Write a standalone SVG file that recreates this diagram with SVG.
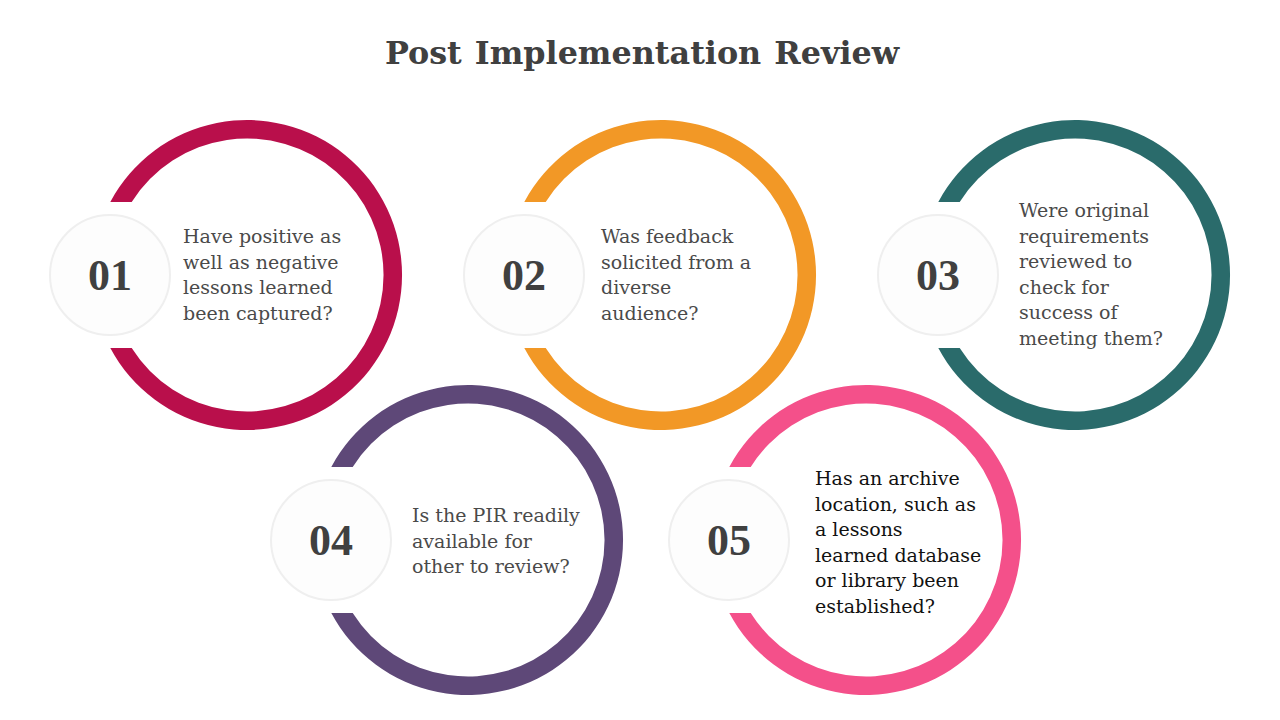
<svg xmlns="http://www.w3.org/2000/svg" width="1280" height="720" viewBox="0 0 1280 720">
<style>
.title{font-family:"DejaVu Serif","Liberation Serif",serif;font-weight:bold;font-size:31.8px;fill:#404040;word-spacing:2px}
.num{font-family:"Liberation Serif","DejaVu Serif",serif;font-weight:bold;font-size:44px;fill:#404040;text-anchor:middle}
.body{font-family:"DejaVu Serif","Liberation Serif",serif;font-size:19px;fill:#4a4a4a}
.dark{fill:#111111}
.badge{fill:#fdfdfd;stroke:#efefef;stroke-width:2}
</style>
<defs>
<path id="ring" d="M -136.7 -73 A 155 155 0 1 1 -136.7 73 L -115.3 73 A 136.5 136.5 0 1 0 -115.3 -73 Z"/>
</defs>
<rect width="1280" height="720" fill="#ffffff"/>
<text class="title" x="642" y="64" text-anchor="middle">Post Implementation Review</text>
<g id="connectors"/>
<g id="node1">
<use href="#ring" transform="translate(247,275)" fill="#B90F4B"/>
<circle class="badge" cx="110" cy="275" r="60"/>
<text class="num" x="110" y="290">01</text>
<text class="body" x="183"><tspan x="183" y="243">Have positive as</tspan><tspan x="183" y="268.5">well as negative</tspan><tspan x="183" y="294">lessons learned</tspan><tspan x="183" y="319.5">been captured?</tspan></text>
</g>
<g id="node2">
<use href="#ring" transform="translate(661,275)" fill="#F29826"/>
<circle class="badge" cx="524" cy="275" r="60"/>
<text class="num" x="524" y="290">02</text>
<text class="body" x="601"><tspan x="601" y="243">Was feedback</tspan><tspan x="601" y="268.5">solicited from a</tspan><tspan x="601" y="294">diverse</tspan><tspan x="601" y="319.5">audience?</tspan></text>
</g>
<g id="node3">
<use href="#ring" transform="translate(1075,275)" fill="#2A6B6B"/>
<circle class="badge" cx="938" cy="275" r="60"/>
<text class="num" x="938" y="290">03</text>
<text class="body" x="1019"><tspan x="1019" y="217">Were original</tspan><tspan x="1019" y="242.5">requirements</tspan><tspan x="1019" y="268">reviewed to</tspan><tspan x="1019" y="293.5">check for</tspan><tspan x="1019" y="319">success of</tspan><tspan x="1019" y="344.5">meeting them?</tspan></text>
</g>
<g id="node4">
<use href="#ring" transform="translate(468,540)" fill="#5E4878"/>
<circle class="badge" cx="331" cy="540" r="60"/>
<text class="num" x="331" y="555">04</text>
<text class="body" x="412"><tspan x="412" y="522">Is the PIR readily</tspan><tspan x="412" y="547.5">available for</tspan><tspan x="412" y="573">other to review?</tspan></text>
</g>
<g id="node5">
<use href="#ring" transform="translate(866,540)" fill="#F4508A"/>
<circle class="badge" cx="729" cy="540" r="60"/>
<text class="num" x="729" y="555">05</text>
<text class="body dark" x="815"><tspan x="815" y="485">Has an archive</tspan><tspan x="815" y="510.5">location, such as</tspan><tspan x="815" y="536">a lessons</tspan><tspan x="815" y="561.5">learned database</tspan><tspan x="815" y="587">or library been</tspan><tspan x="815" y="612.5">established?</tspan></text>
</g>
</svg>
